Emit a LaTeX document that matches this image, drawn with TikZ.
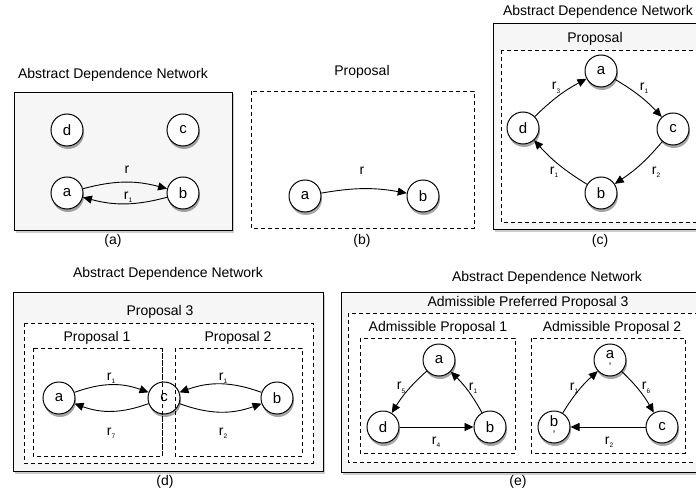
\documentclass[tikz,border=0pt]{standalone}
\usepackage{fontspec}
\setmainfont{Liberation Sans}
\usetikzlibrary{arrows.meta,shadows}
\newcommand{\rlab}[1]{r\raisebox{-3.5pt}{\fontsize{6.5}{7}\selectfont #1}}
\newcommand{\primed}[1]{\makebox[0pt]{\raisebox{4pt}{#1}}\makebox[0pt]{\raisebox{-8pt}{\fontsize{11}{11}\selectfont '}}}
\begin{document}
\begin{tikzpicture}[x=1pt,y=-1pt,
  agent/.style={circle,draw,line width=1pt,fill=white,minimum size=32pt,inner sep=0pt,
    font=\fontsize{15}{17}\selectfont,
    drop shadow={shadow xshift=1pt,shadow yshift=-3pt,opacity=0.35,fill=black}},
  outerbox/.style={draw,line width=0.9pt,fill=gray!7,
    drop shadow={shadow xshift=1.5pt,shadow yshift=-2.5pt,opacity=0.2,fill=black}},
  dashbox/.style={draw,line width=0.9pt,dash pattern=on 4pt off 3pt,fill=white},
  dashline/.style={draw,line width=0.9pt,dash pattern=on 4pt off 3pt},
  title/.style={font=\fontsize{14}{16}\selectfont,inner sep=0pt},
  rel/.style={-{Triangle[length=9pt,width=8pt]},line width=0.9pt},
  lab/.style={font=\fontsize{14}{16}\selectfont,inner sep=0pt}
]
\useasboundingbox (0,0) rectangle (696,492);
\fill[white] (0,0) rectangle (696,492);

% ---------- panel (a)
\draw[outerbox] (14,92) rectangle (232,230);
\node[title] (ta) at (113,75) {Abstract Dependence Network};
\node[agent] (ad) at (67,130) {d};
\node[agent] (ac) at (183,130) {c};
\node[agent] (aa) at (67,193) {a};
\node[agent] (ab) at (183,193) {b};
\draw[rel] (aa) to[bend left=15] (ab);
\draw[rel] (ab) to[bend left=15] (aa);
\node[lab] (ar) at (127,170) {r};
\node[lab] (ar1) at (128,197) {\rlab{1}};
\node[title] (capa) at (113,241) {(a)};

% ---------- panel (b)
\draw[dashbox] (251,91) rectangle (474,228);
\node[title] (tb) at (362,72) {Proposal};
\node[agent] (ba) at (305,196) {a};
\node[agent] (bb) at (423,196) {b};
\draw[rel] (ba) to[bend left=10] (bb);
\node[lab] (br) at (362,171) {r};
\node[title] (capb) at (362,241) {(b)};

% ---------- panel (c)
\draw[outerbox] (493,23) rectangle (706,229);
\node[title] (tc) at (598,12) {Abstract Dependence Network};
\node[title] (tcp) at (595,39) {Proposal};
\draw[dashbox] (501,50) rectangle (698,222);
\node[agent] (ca) at (601,71) {a};
\node[agent] (cd) at (523,128) {d};
\node[agent] (cc) at (673,129) {c};
\node[agent] (cb) at (601,193) {b};
\draw[rel] (ca) to[bend left=8] (cc);
\draw[rel] (cc) to[bend left=8] (cb);
\draw[rel] (cb) to[bend left=8] (cd);
\draw[rel] (cd) to[bend left=8] (ca);
\node[lab] (cr3) at (556,88) {\rlab{3}};
\node[lab] (cr1a) at (644,88) {\rlab{1}};
\node[lab] (cr1b) at (554,172) {\rlab{1}};
\node[lab] (cr2) at (656,172) {\rlab{2}};
\node[title] (capc) at (600,241) {(c)};

% ---------- panel (d)
\draw[outerbox] (13,292) rectangle (323,471);
\node[title] (td) at (168,274) {Abstract Dependence Network};
\node[title] (tdp3) at (160,312) {Proposal 3};
\draw[dashbox] (24,323) rectangle (313,463);
\node[title] (tdp1) at (97,338) {Proposal 1};
\node[title] (tdp2) at (238,338) {Proposal 2};
\draw[dashbox] (33,348) rectangle (162,456);
\draw[dashbox] (175,348) rectangle (302,456);
\node[agent] (da) at (59,398) {a};
\node[agent] (dc) at (164,398) {c};
\node[agent] (db) at (277,398) {b};
\draw[dashline] (162,348) -- (162,456);
\draw[dashline] (175,348) -- (175,456);
\draw[rel] (da) to[bend left=20] (dc);
\draw[rel] (dc) to[bend left=20] (da);
\draw[rel] (db) to[bend right=20] (dc);
\draw[rel] (dc) to[bend right=20] (db);
\node[lab] (dr1a) at (111,378) {\rlab{1}};
\node[lab] (dr7) at (111,433) {\rlab{7}};
\node[lab] (dr1b) at (223,378) {\rlab{1}};
\node[lab] (dr2) at (223,433) {\rlab{2}};
\node[title] (capd) at (165,482) {(d)};

% ---------- panel (e)
\draw[outerbox] (341,292) rectangle (706,472);
\node[title] (te) at (547,278) {Abstract Dependence Network};
\node[title] (tep3) at (528,303) {Admissible Preferred Proposal 3};
\draw[dashbox] (348,313) rectangle (700,462);
\node[title] (tep1) at (438,328) {Admissible Proposal 1};
\node[title] (tep2) at (612,328) {Admissible Proposal 2};
\draw[dashbox] (360,338) rectangle (515,453);
\draw[dashbox] (531,338) rectangle (685,453);
\node[agent] (ea) at (439,360) {a};
\node[agent] (ed) at (383,427) {d};
\node[agent] (eb) at (490,427) {b};
\node[agent] (ea2) at (610,360) {\primed{a}};
\node[agent] (eb2) at (554,427) {\primed{b}};
\node[agent] (ec) at (662,427) {c};
\draw[rel] (ea) to[bend right=8] (ed);
\draw[rel] (eb) to[bend right=8] (ea);
\draw[rel] (ed) -- (eb);
\draw[rel] (eb2) to[bend left=8] (ea2);
\draw[rel] (ea2) to[bend left=8] (ec);
\draw[rel] (ec) -- (eb2);
\node[lab] (er5) at (401,388) {\rlab{5}};
\node[lab] (er1a) at (473,388) {\rlab{1}};
\node[lab] (er4) at (436,442) {\rlab{4}};
\node[lab] (er1b) at (574,388) {\rlab{1}};
\node[lab] (er6) at (646,388) {\rlab{6}};
\node[lab] (er2) at (609,442) {\rlab{2}};
\node[title] (cape) at (518,482) {(e)};
\end{tikzpicture}
\end{document}
